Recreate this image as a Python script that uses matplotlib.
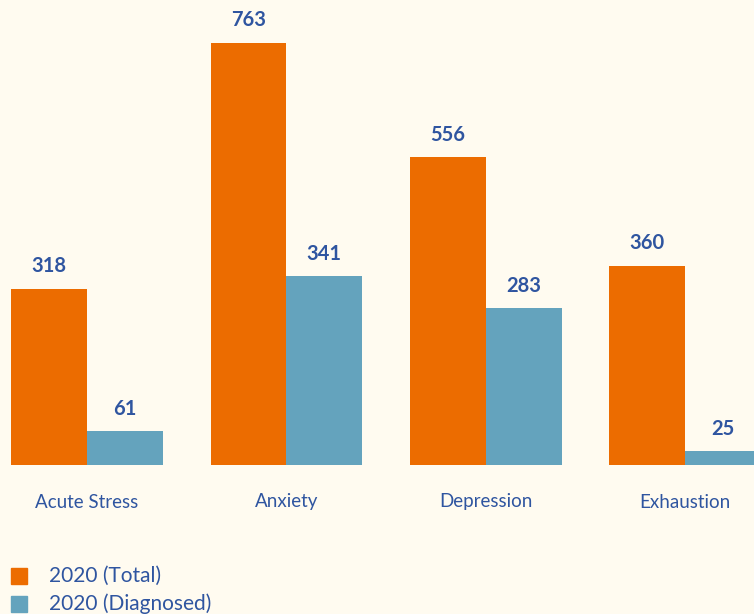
import numpy as np
import matplotlib
matplotlib.use("Agg")
import matplotlib.pyplot as plt
from matplotlib.patches import Rectangle

plt.rcParams['font.family'] = ['Lato', 'DejaVu Sans']

categories = ["Acute Stress", "Anxiety", "Depression", "Exhaustion"]
total = [318, 763, 556, 360]
diagnosed = [61, 341, 283, 25]
series_names = ["2020 (Total)", "2020 (Diagnosed)"]

bg = "#FFFBF0"
orange = "#EC6C00"
blue = "#64A3BD"
txt = "#2F55A0"

fig = plt.figure(figsize=(7.54, 6.14), dpi=100, facecolor=bg)
ax = fig.add_axes([0, 1 - 465 / 614, 1, 465 / 614])
ax.set_facecolor(bg)

x = np.arange(len(categories))
w = 0.38
b1 = ax.bar(x - w / 2, total, w, color=orange)
b2 = ax.bar(x + w / 2, diagnosed, w, color=blue)

for bars, vals in [(b1, total), (b2, diagnosed)]:
    for r, v in zip(bars, vals):
        ax.annotate(str(v), (r.get_x() + r.get_width() / 2, v), xytext=(0, 9),
                    textcoords="offset points", ha="center", va="bottom",
                    fontsize=14.5, fontweight="bold", color=txt)

ax.set_xlim(-0.436, 3.345)
ax.set_ylim(0, 840)
ax.axis("off")

for xi, c in zip(x, categories):
    fig.text(ax.transData.transform((xi, 0))[0] / fig.bbox.width, 1 - 502 / 614, c,
             ha="center", va="center", fontsize=13.5, color=txt)

# legend
for i, (name, col) in enumerate(zip(series_names, [orange, blue])):
    yc = 576 + 28 * i
    fig.patches.append(Rectangle((11 / 754, 1 - (yc + 8) / 614), 16 / 754, 16 / 614,
                                 transform=fig.transFigure, color=col))
    fig.text(49 / 754, 1 - yc / 614, name, ha="left", va="center",
             fontsize=15, color=txt)

fig.savefig("out.png", dpi=100, facecolor=bg)
